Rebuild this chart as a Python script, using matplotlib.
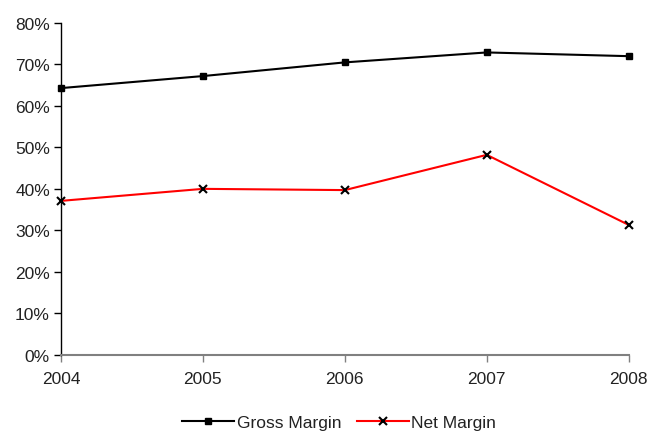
import matplotlib
matplotlib.use("Agg")
import matplotlib.pyplot as plt
from matplotlib.ticker import PercentFormatter

plt.rcParams['font.family'] = ['Liberation Sans', 'DejaVu Sans']

years = [2004, 2005, 2006, 2007, 2008]
gross_margin = [64.3, 67.2, 70.5, 72.9, 72.0]
net_margin = [37.1, 40.0, 39.7, 48.2, 31.3]
y_ticks = [0, 10, 20, 30, 40, 50, 60, 70, 80]

fig = plt.figure(figsize=(6.5, 4.35), dpi=100)
ax = fig.add_axes([61 / 650, 1 - 355.7 / 435, (628.7 - 61) / 650, (355.7 - 24) / 435])

ax.plot(years, gross_margin, color='black', lw=1.5, marker='s', ms=5,
        mfc='black', mec='black', label='Gross Margin', clip_on=False, zorder=3)
ax.plot(years, net_margin, color='#ff0000', lw=1.5, marker='x', ms=6,
        mew=1.5, mfc='black', mec='black', label='Net Margin', clip_on=False, zorder=3)

ax.set_xlim(years[0], years[-1])
ax.set_ylim(0, 80)
ax.set_xticks(years)
ax.set_yticks(y_ticks)
ax.yaxis.set_major_formatter(PercentFormatter(decimals=0))

for side in ('top', 'right'):
    ax.spines[side].set_visible(False)
ax.spines['left'].set_color('black')
ax.spines['left'].set_linewidth(1.0)
ax.spines['bottom'].set_color('#808080')
ax.spines['bottom'].set_linewidth(1.5)

ax.tick_params(axis='y', direction='out', length=5, width=1, color='black',
               labelsize=12.5, pad=3, labelcolor='#222222')
ax.tick_params(axis='x', direction='out', length=5, width=1, color='#808080',
               labelsize=12.5, pad=7, labelcolor='#222222')

leg = ax.legend(loc='upper center', bbox_to_anchor=(0.49, -0.135), ncol=2, frameon=False,
                fontsize=12.5, handlelength=3.0, handletextpad=0.15, columnspacing=0.9)
for t in leg.get_texts():
    t.set_color('#222222')

fig.savefig('out.png', dpi=100)
